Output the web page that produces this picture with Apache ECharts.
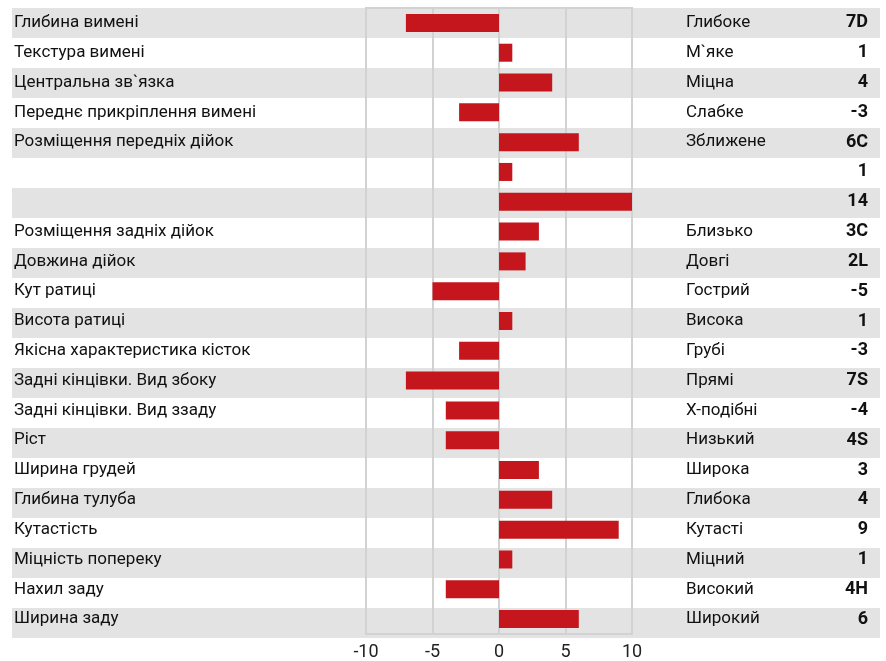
<!DOCTYPE html>
<html>
<head>
<meta charset="utf-8">
<script src="https://cdn.jsdelivr.net/npm/echarts@6/dist/echarts.min.js"></script>
<style>
  html, body { margin: 0; padding: 0; background: #fff; }
  #chart { width: 886px; height: 661px; }
</style>
</head>
<body>
<div id="chart"></div>
<script>
// ознаки (ліва колонка)
const traits = [
    'Глибина вимені', 'Текстура вимені', 'Центральна зв`язка', 'Переднє прикріплення вимені',
    'Розміщення передніх дійок', '', '', 'Розміщення задніх дійок', 'Довжина дійок',
    'Кут ратиці', 'Висота ратиці', 'Якісна характеристика кісток', 'Задні кінцівки. Вид збоку',
    'Задні кінцівки. Вид ззаду', 'Ріст', 'Ширина грудей', 'Глибина тулуба', 'Кутастість',
    'Міцність попереку', 'Нахил заду', 'Ширина заду'
]
const values = [-7, 1, 4, -3, 6, 1, 14, 3, 2, -5, 1, -3, -7, -4, -4, 3, 4, 9, 1, -4, 6]
const descr = [
    'Глибоке', 'М`яке', 'Міцна', 'Слабке', 'Зближене', '', '', 'Близько', 'Довгі',
    'Гострий', 'Висока', 'Грубі', 'Прямі', 'Х-подібні', 'Низький', 'Широка', 'Глибока',
    'Кутасті', 'Міцний', 'Високий', 'Широкий'
]
const codes = ['7D', '1', '4', '-3', '6C', '1', '14', '3C', '2L', '-5', '1', '-3', '7S', '-4', '4S', '3', '4', '9', '1', '4H', '6']
const xMin = -10, xMax = 10, xStep = 5

const font = 'Roboto, "Liberation Sans", sans-serif'
const myChart = echarts.init(document.getElementById('chart'), null, { renderer: 'canvas' })

const option = {
    animation: false,
    grid: [
        { left: 366, right: 254, top: 8, height: 630, show: true, borderColor: '#d2d2d2', borderWidth: 2, z: 3 },
        { left: 12, right: 6, top: 8, height: 630, z: 0 }
    ],
    xAxis: [
        {
            gridIndex: 0, type: 'value', min: xMin, max: xMax, interval: xStep,
            axisLine: { show: false }, axisTick: { show: false },
            splitLine: { lineStyle: { color: '#d2d2d2', width: 2 } },
            axisLabel: { fontFamily: font, fontSize: 18, color: '#222', margin: 9 }
        },
        { gridIndex: 1, type: 'value', show: false }
    ],
    yAxis: [
        {
            gridIndex: 0, type: 'category', inverse: true, data: traits,
            axisLine: { show: false }, axisTick: { show: false },
            axisLabel: { fontFamily: font, fontSize: 17, color: '#111', align: 'left', margin: 352 }
        },
        {
            gridIndex: 0, type: 'category', inverse: true, position: 'right', data: descr,
            axisLine: { show: false }, axisTick: { show: false },
            axisLabel: { fontFamily: font, fontSize: 17, color: '#111', align: 'left', margin: 54 }
        },
        {
            gridIndex: 0, type: 'category', inverse: true, position: 'right', data: codes,
            axisLine: { show: false }, axisTick: { show: false },
            axisLabel: { fontFamily: font, fontSize: 18, fontWeight: 'bold', color: '#111', align: 'right', margin: 236 }
        },
        {
            gridIndex: 1, type: 'category', inverse: true, data: traits.map((t, i) => i),
            axisLine: { show: false }, axisTick: { show: false }, axisLabel: { show: false },
            splitArea: { show: true, areaStyle: { color: ['#e3e3e3', '#ffffff'] } }
        }
    ],
    series: [
        {
            type: 'bar',
            xAxisIndex: 0,
            yAxisIndex: 0,
            data: values,
            barWidth: 18,
            clip: true,
            itemStyle: { color: '#c4161c' },
            z: 4
        }
    ]
}

myChart.setOption(option)
window.addEventListener('resize', myChart.resize)
</script>
</body>
</html>
